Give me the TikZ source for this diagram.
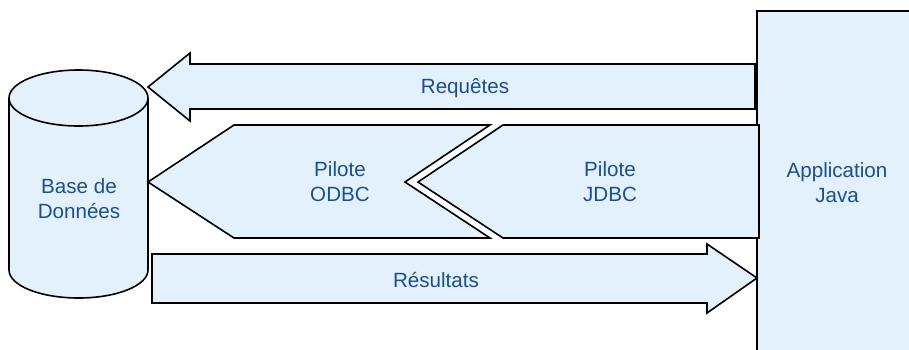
\documentclass[tikz,border=0pt]{standalone}
\usepackage{fontspec}
\setmainfont{Liberation Sans}
\definecolor{boxfill}{HTML}{E3F1FD}
\definecolor{labelblue}{HTML}{1B4F8D}
\begin{document}
\begin{tikzpicture}[x=1pt,y=-1pt,
  partbox/.style={draw=black,line width=1.6pt,fill=boxfill,line join=miter},
  captxt/.style={text=labelblue,align=center,inner sep=0pt,
    font=\fontsize{20.6}{25}\selectfont}]
\useasboundingbox (0,0) rectangle (909,349);
% Java application block (runs off the right and bottom edges)
\draw[partbox] (757,11) rectangle (930,370);
% database cylinder
\draw[partbox] (9,98) -- (9,270) arc[start angle=180,end angle=0,x radius=69.5,y radius=28]
  -- (148,98);
\draw[partbox] (78.5,98) ellipse[x radius=69.5,y radius=28];
% request arrow pointing to the database
\draw[partbox] (148,87) -- (190,53) -- (190,64) -- (755,64) -- (755,109)
  -- (190,109) -- (190,121) -- cycle;
% ODBC driver
\draw[partbox] (148,182) -- (234,125) -- (490,125) -- (405,182) -- (490,238)
  -- (234,238) -- cycle;
% JDBC driver
\draw[partbox] (503,125) -- (759,125) -- (759,238) -- (503,238) -- (418,182) -- cycle;
% results arrow pointing to the application
\draw[partbox] (152,254) -- (707,254) -- (707,244) -- (757,278) -- (707,313)
  -- (707,303) -- (152,303) -- cycle;
% labels
\node[captxt] (bdd) at (79,199) {Base de\\Données};
\node[captxt] (req) at (465,88) {Requêtes};
\node[captxt] (odbc) at (340,182) {Pilote\\ODBC};
\node[captxt] (jdbc) at (610,182) {Pilote\\JDBC};
\node[captxt] (app) at (837,183) {Application\\Java};
\node[captxt] (res) at (436,280) {Résultats};
\end{tikzpicture}
\end{document}
